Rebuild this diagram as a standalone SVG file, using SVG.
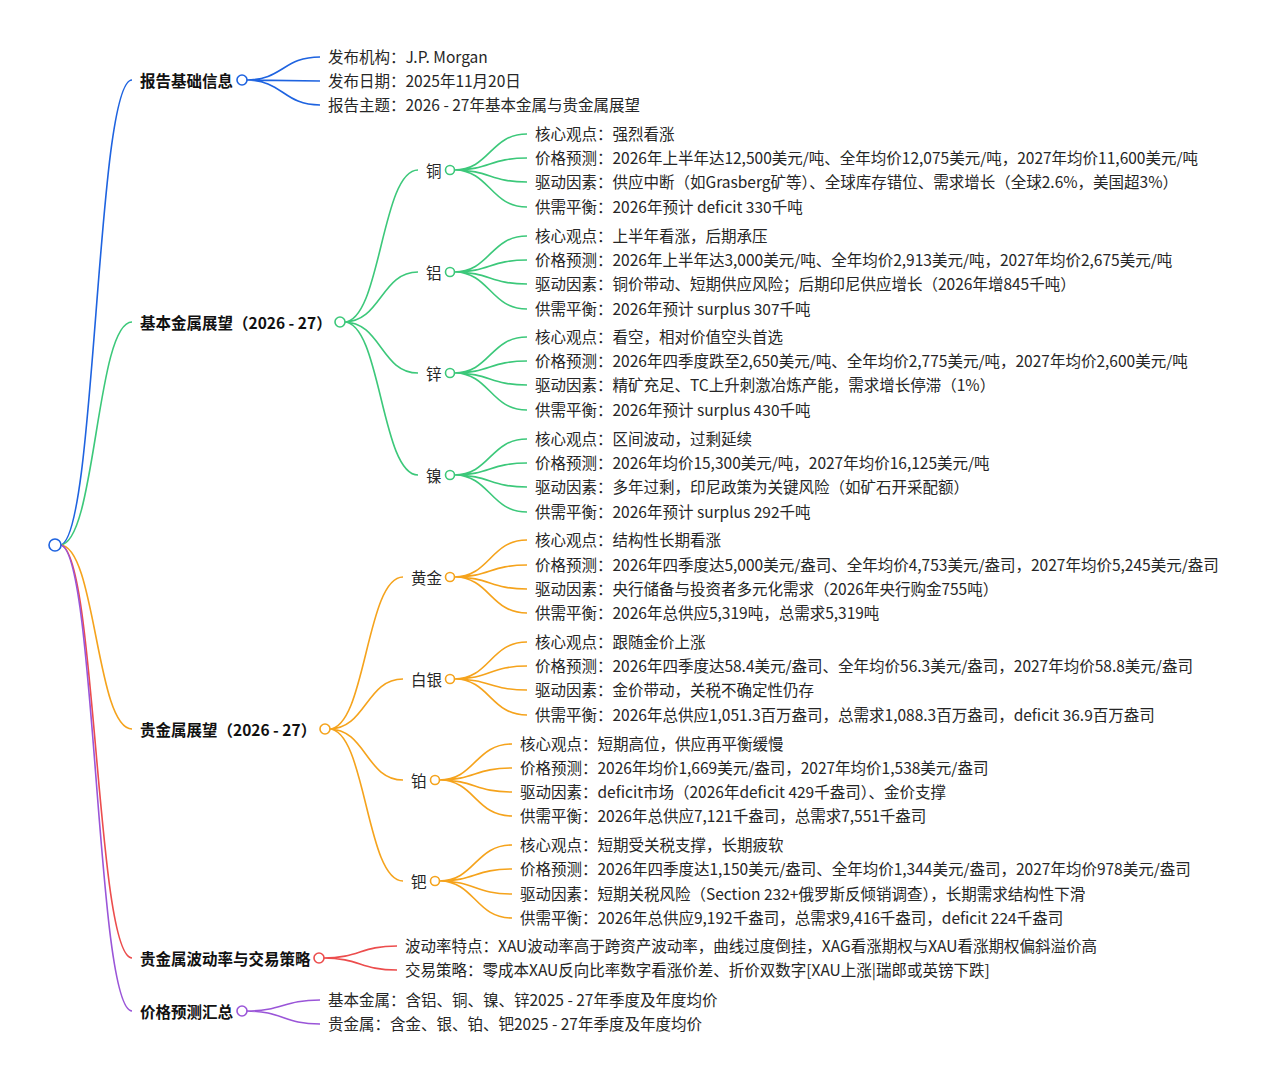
<svg xmlns="http://www.w3.org/2000/svg" width="1266" height="1080" viewBox="0 0 1266 1080">
<style>
text{font-family:"Noto Sans CJK SC","Noto Sans",sans-serif;font-size:15.5px;fill:#262626;dominant-baseline:central;transform:translateY(-1px)}
.b{font-weight:bold;fill:#111}
path{fill:none;stroke-width:1.6}
circle{fill:#fff;stroke-width:1.6}
.bl{stroke:#1e63e0}.gr{stroke:#3cc87a}.or{stroke:#f5a31c}.rd{stroke:#ec4d4d}.pu{stroke:#9a55d8}
</style>
<rect width="1266" height="1080" fill="#fff"/>
<g id="connectors">
<path class="bl" d="M60 545C96 545 96 80 132 80"/>
<path class="gr" d="M60 545C96 545 96 322 132 322"/>
<path class="or" d="M60 545C96 545 96 729 132 729"/>
<path class="rd" d="M60 545C96 545 96 958 132 958"/>
<path class="pu" d="M60 545C96 545 96 1011 132 1011"/>
<path class="bl" d="M246 80C283 80 283 57 320 57M246 80L320 81M246 80C283 80 283 105 320 105"/>
<path class="gr" d="M344 322C381 322 381 170 418 170M344 322C381 322 381 272 418 272M344 322C381 322 381 373 418 373M344 322C381 322 381 475 418 475"/>
<path class="gr" d="M454 170C490 170 490 134 527 134M454 170C490 170 490 158 527 158M454 170C490 170 490 182 527 182M454 170C490 170 490 207 527 207"/>
<path class="gr" d="M454 272C490 272 490 236 527 236M454 272C490 272 490 260 527 260M454 272C490 272 490 284 527 284M454 272C490 272 490 309 527 309"/>
<path class="gr" d="M454 373C490 373 490 337 527 337M454 373C490 373 490 361 527 361M454 373C490 373 490 385 527 385M454 373C490 373 490 410 527 410"/>
<path class="gr" d="M454 475C490 475 490 439 527 439M454 475C490 475 490 463 527 463M454 475C490 475 490 487 527 487M454 475C490 475 490 512 527 512"/>
<path class="or" d="M329 729C366 729 366 577 403 577M329 729C366 729 366 679 403 679M329 729C366 729 366 780 403 780M329 729C366 729 366 881 403 881"/>
<path class="or" d="M454 577C490 577 490 540 527 540M454 577C490 577 490 565 527 565M454 577C490 577 490 589 527 589M454 577C490 577 490 613 527 613"/>
<path class="or" d="M454 679C490 679 490 642 527 642M454 679C490 679 490 666 527 666M454 679C490 679 490 690 527 690M454 679C490 679 490 715 527 715"/>
<path class="or" d="M439 780C475 780 475 744 512 744M439 780C475 780 475 768 512 768M439 780C475 780 475 792 512 792M439 780C475 780 475 816 512 816"/>
<path class="or" d="M439 881C475 881 475 845 512 845M439 881C475 881 475 869 512 869M439 881C475 881 475 894 512 894M439 881C475 881 475 918 512 918"/>
<path class="rd" d="M323 958C360 958 360 946 397 946M323 958C360 958 360 970 397 970"/>
<path class="pu" d="M246 1011C283 1011 283 1000 320 1000M246 1011C283 1011 283 1024 320 1024"/>
</g>
<g id="root"><circle class="bl" cx="55" cy="545" r="6"/></g>
<g id="n-info">
<text class="b" x="140" y="81">报告基础信息</text><circle class="bl" cx="242" cy="80" r="5"/>
<text x="328" y="57">发布机构：J.P. Morgan</text>
<text x="328" y="81">发布日期：2025年11月20日</text>
<text x="328" y="105">报告主题：2026 - 27年基本金属与贵金属展望</text>
</g>
<g id="n-base">
<text class="b" x="140" y="323">基本金属展望（2026 - 27）</text><circle class="gr" cx="340" cy="322" r="5"/>
</g>
<g id="n-cu">
<text x="426" y="171">铜</text><circle class="gr" cx="450" cy="170" r="4.5"/>
<text x="535" y="134">核心观点：强烈看涨</text>
<text x="535" y="158">价格预测：2026年上半年达12,500美元/吨、全年均价12,075美元/吨，2027年均价11,600美元/吨</text>
<text x="535" y="182">驱动因素：供应中断（如Grasberg矿等）、全球库存错位、需求增长（全球2.6%，美国超3%）</text>
<text x="535" y="207">供需平衡：2026年预计 deficit 330千吨</text>
</g>
<g id="n-al">
<text x="426" y="273">铝</text><circle class="gr" cx="450" cy="272" r="4.5"/>
<text x="535" y="236">核心观点：上半年看涨，后期承压</text>
<text x="535" y="260">价格预测：2026年上半年达3,000美元/吨、全年均价2,913美元/吨，2027年均价2,675美元/吨</text>
<text x="535" y="284">驱动因素：铜价带动、短期供应风险；后期印尼供应增长（2026年增845千吨）</text>
<text x="535" y="309">供需平衡：2026年预计 surplus 307千吨</text>
</g>
<g id="n-zn">
<text x="426" y="374">锌</text><circle class="gr" cx="450" cy="373" r="4.5"/>
<text x="535" y="337">核心观点：看空，相对价值空头首选</text>
<text x="535" y="361">价格预测：2026年四季度跌至2,650美元/吨、全年均价2,775美元/吨，2027年均价2,600美元/吨</text>
<text x="535" y="385">驱动因素：精矿充足、TC上升刺激冶炼产能，需求增长停滞（1%）</text>
<text x="535" y="410">供需平衡：2026年预计 surplus 430千吨</text>
</g>
<g id="n-ni">
<text x="426" y="476">镍</text><circle class="gr" cx="450" cy="475" r="4.5"/>
<text x="535" y="439">核心观点：区间波动，过剩延续</text>
<text x="535" y="463">价格预测：2026年均价15,300美元/吨，2027年均价16,125美元/吨</text>
<text x="535" y="487">驱动因素：多年过剩，印尼政策为关键风险（如矿石开采配额）</text>
<text x="535" y="512">供需平衡：2026年预计 surplus 292千吨</text>
</g>
<g id="n-prec">
<text class="b" x="140" y="730">贵金属展望（2026 - 27）</text><circle class="or" cx="325" cy="729" r="5"/>
</g>
<g id="n-au">
<text x="411" y="578">黄金</text><circle class="or" cx="450" cy="577" r="4.5"/>
<text x="535" y="540">核心观点：结构性长期看涨</text>
<text x="535" y="565">价格预测：2026年四季度达5,000美元/盎司、全年均价4,753美元/盎司，2027年均价5,245美元/盎司</text>
<text x="535" y="589">驱动因素：央行储备与投资者多元化需求（2026年央行购金755吨）</text>
<text x="535" y="613">供需平衡：2026年总供应5,319吨，总需求5,319吨</text>
</g>
<g id="n-ag">
<text x="411" y="680">白银</text><circle class="or" cx="450" cy="679" r="4.5"/>
<text x="535" y="642">核心观点：跟随金价上涨</text>
<text x="535" y="666">价格预测：2026年四季度达58.4美元/盎司、全年均价56.3美元/盎司，2027年均价58.8美元/盎司</text>
<text x="535" y="690">驱动因素：金价带动，关税不确定性仍存</text>
<text x="535" y="715">供需平衡：2026年总供应1,051.3百万盎司，总需求1,088.3百万盎司，deficit 36.9百万盎司</text>
</g>
<g id="n-pt">
<text x="411" y="781">铂</text><circle class="or" cx="435" cy="780" r="4.5"/>
<text x="520" y="744">核心观点：短期高位，供应再平衡缓慢</text>
<text x="520" y="768">价格预测：2026年均价1,669美元/盎司，2027年均价1,538美元/盎司</text>
<text x="520" y="792">驱动因素：deficit市场（2026年deficit 429千盎司）、金价支撑</text>
<text x="520" y="816">供需平衡：2026年总供应7,121千盎司，总需求7,551千盎司</text>
</g>
<g id="n-pd">
<text x="411" y="882">钯</text><circle class="or" cx="435" cy="881" r="4.5"/>
<text x="520" y="845">核心观点：短期受关税支撑，长期疲软</text>
<text x="520" y="869">价格预测：2026年四季度达1,150美元/盎司、全年均价1,344美元/盎司，2027年均价978美元/盎司</text>
<text x="520" y="894">驱动因素：短期关税风险（Section 232+俄罗斯反倾销调查），长期需求结构性下滑</text>
<text x="520" y="918">供需平衡：2026年总供应9,192千盎司，总需求9,416千盎司，deficit 224千盎司</text>
</g>
<g id="n-vol">
<text class="b" x="140" y="959">贵金属波动率与交易策略</text><circle class="rd" cx="319" cy="958" r="5"/>
<text x="405" y="946">波动率特点：XAU波动率高于跨资产波动率，曲线过度倒挂，XAG看涨期权与XAU看涨期权偏斜溢价高</text>
<text x="405" y="970">交易策略：零成本XAU反向比率数字看涨价差、折价双数字[XAU上涨|瑞郎或英镑下跌]</text>
</g>
<g id="n-sum">
<text class="b" x="140" y="1012">价格预测汇总</text><circle class="pu" cx="242" cy="1011" r="5"/>
<text x="328" y="1000">基本金属：含铝、铜、镍、锌2025 - 27年季度及年度均价</text>
<text x="328" y="1024">贵金属：含金、银、铂、钯2025 - 27年季度及年度均价</text>
</g>
</svg>
